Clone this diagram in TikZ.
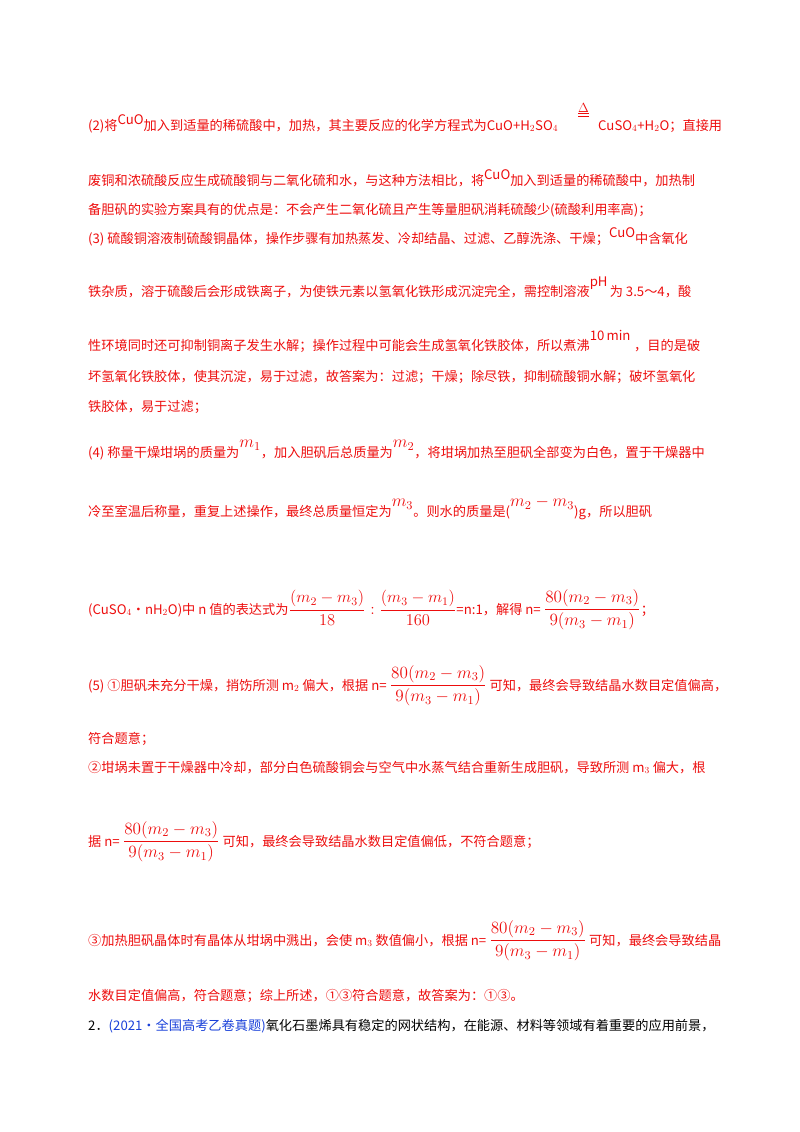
\documentclass[tikz,border=0pt]{standalone}
\usepackage{fix-cm}
\usepackage{amsmath}
\usepackage{graphicx}
\usepackage{fontspec}
\setmainfont{Noto Sans CJK SC}
\definecolor{ansred}{rgb}{0.93,0.05,0.05}
\definecolor{srcblue}{rgb}{0.10,0.25,0.85}
\newcommand{\upm}[1]{\raisebox{0.8ex}{#1}}
\newcommand{\massup}[1]{\raisebox{1.3ex}{\scalebox{1.3}{$#1$}}}
\newcommand{\frn}{\scalebox{1.3}{$\dfrac{80(m_2-m_3)}{9(m_3-m_1)}$}}
\tikzset{
  txt/.style={anchor=base west, inner sep=0pt, text=ansred, font=\fontsize{13.2}{15}\selectfont},
  src/.style={txt, text=black}
}
\begin{document}
\begin{tikzpicture}[x=1pt,y=-1pt]
\useasboundingbox (0,0) rectangle (800,1132);
% part (2)
\node[txt] (l1a) at (88,130) {(2)将\upm{CuO}加入到适量的稀硫酸中，加热，其主要反应的化学方程式为CuO+H$_2$SO$_4$};
\node[txt] (heat) at (578,112) {$\underline{\underline{\Delta}}$};
\node[txt] (l1b) at (598,130) {CuSO$_4$+H$_2$O；直接用};
\node[txt] (l2) at (88,185) {废铜和浓硫酸反应生成硫酸铜与二氧化硫和水，与这种方法相比，将\upm{CuO}加入到适量的稀硫酸中，加热制};
\node[txt] (l3) at (88,214) {备胆矾的实验方案具有的优点是：不会产生二氧化硫且产生等量胆矾消耗硫酸少(硫酸利用率高)；};
% part (3)
\node[txt] (l4) at (88,243) {(3) 硫酸铜溶液制硫酸铜晶体，操作步骤有加热蒸发、冷却结晶、过滤、乙醇洗涤、干燥；\upm{CuO}中含氧化};
\node[txt] (l5) at (88,296) {铁杂质，溶于硫酸后会形成铁离子，为使铁元素以氢氧化铁形成沉淀完全，需控制溶液\raisebox{1.3ex}{pH}\,为 3.5～4，酸};
\node[txt] (l6) at (88,350) {性环境同时还可抑制铜离子发生水解；操作过程中可能会生成氢氧化铁胶体，所以煮沸\raisebox{1.3ex}{10\,min}\;，目的是破};
\node[txt] (l7) at (88,381) {坏氢氧化铁胶体，使其沉淀，易于过滤，故答案为：过滤；干燥；除尽铁，抑制硫酸铜水解；破坏氢氧化};
\node[txt] (l8) at (88,411) {铁胶体，易于过滤；};
% part (4)
\node[txt] (l9) at (88,457) {(4) 称量干燥坩埚的质量为\massup{m_1}，加入胆矾后总质量为\massup{m_2}，将坩埚加热至胆矾全部变为白色，置于干燥器中};
\node[txt] (l10) at (88,516) {冷至室温后称量，重复上述操作，最终总质量恒定为\massup{m_3}。则水的质量是(\massup{m_2-m_3})g，所以胆矾};
\node[txt] (l11) at (88,614) {(CuSO$_4$•nH$_2$O)中 n 值的表达式为\scalebox{1.25}{$\dfrac{(m_2-m_3)}{18}:\dfrac{(m_3-m_1)}{160}$}=n:1，解得 n= \frn；};
% part (5)
\node[txt] (l12) at (88,690) {(5) ①胆矾未充分干燥，捎饬所测 m$_2$ 偏大，根据 n= \frn\ 可知，最终会导致结晶水数目定值偏高，};
\node[txt] (l13) at (88,743) {符合题意；};
\node[txt] (l14) at (88,772) {②坩埚未置于干燥器中冷却，部分白色硫酸铜会与空气中水蒸气结合重新生成胆矾，导致所测 m$_3$ 偏大，根};
\node[txt] (l15) at (88,846) {据 n= \frn\ 可知，最终会导致结晶水数目定值偏低，不符合题意；};
\node[txt] (l16) at (88,945) {③加热胆矾晶体时有晶体从坩埚中溅出，会使 m$_3$ 数值偏小，根据 n= \frn\ 可知，最终会导致结晶};
\node[txt] (l17) at (88,1000) {水数目定值偏高，符合题意；综上所述，①③符合题意，故答案为：①③。};
% next question
\node[src] (q2) at (88,1030) {2．\textcolor{srcblue}{(2021·全国高考乙卷真题)}氧化石墨烯具有稳定的网状结构，在能源、材料等领域有着重要的应用前景，};
\end{tikzpicture}
\end{document}
